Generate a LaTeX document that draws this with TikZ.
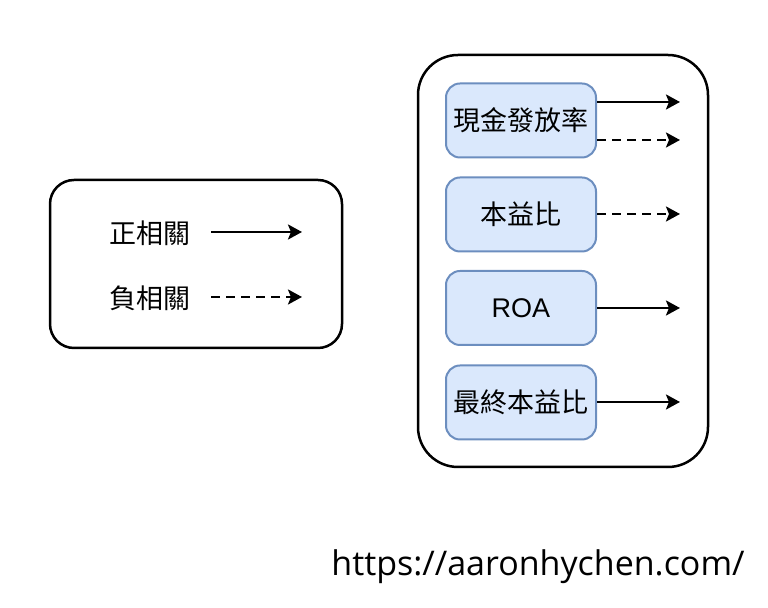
\documentclass[tikz,border=0pt]{standalone}
\usepackage{fontspec}
\setmainfont{Liberation Sans}
\newfontfamily\cjk{Noto Sans CJK TC}
\newfontfamily\urlfont{Open Sans}
\usetikzlibrary{arrows.meta}
\definecolor{itemfill}{HTML}{DAE8FC}
\definecolor{itemline}{HTML}{6C8EBF}

\begin{document}
\begin{tikzpicture}[x=0.5pt,y=-0.5pt,
	outerbox/.style={draw=black, line width=1.25pt, rounded corners=12pt},
	item/.style={draw=itemline, fill=itemfill, line width=1pt, rounded corners=7pt, minimum width=75pt, minimum height=37pt, inner sep=0pt, font=\fontsize{13.5}{15}\selectfont\cjk},
	legendtext/.style={font=\fontsize{13.5}{15}\selectfont\cjk, inner sep=0pt},
	posarrow/.style={line width=1.25pt, -{Stealth[length=7pt, width=7.5pt, inset=1.5pt]}},
	negarrow/.style={posarrow, dash pattern=on 4.5pt off 3pt}]
	\useasboundingbox (0,0) rectangle (768,608);
	% legend
	\node (legend) at (196, 264)	[outerbox, minimum width=146pt, minimum height=84pt]	{};
	\node (plus) at (150, 233)	[legendtext]	{正相關};
	\node (minus) at (150, 298)	[legendtext]	{負相關};
	\coordinate (p1) at (211, 232);
	\coordinate (p2) at (302, 232);
	\coordinate (m1) at (211, 297);
	\coordinate (m2) at (302, 297);
	\draw[posarrow] (p1) -- (p2);
	\draw[negarrow] (m1) -- (m2);
	% factors
	\node (group) at (563, 261)	[outerbox, rounded corners=20pt, minimum width=145pt, minimum height=206pt]	{};
	\node (cash) at (521, 120.5)	[item]	{現金發放率};
	\node (pe) at (521, 214.5)	[item]	{本益比};
	\node (roa) at (521, 308)	[item, font=\fontsize{13.5}{15}\selectfont]	{ROA};
	\node (fpe) at (521, 402.5)	[item]	{最終本益比};
	\coordinate (c1) at (680, 102);
	\coordinate (c2) at (680, 140);
	\coordinate (e2) at (680, 214);
	\coordinate (e3) at (680, 308);
	\coordinate (e4) at (680, 402);
	\draw[posarrow] (cash.east |- c1) -- (c1);
	\draw[negarrow] (cash.east |- c2) -- (c2);
	\draw[negarrow] (pe.east |- e2) -- (e2);
	\draw[posarrow] (roa.east |- e3) -- (e3);
	\draw[posarrow] (fpe.east |- e4) -- (e4);
	% site
	\node (site) at (538, 567)	[font=\fontsize{17}{19}\selectfont\urlfont, inner sep=0pt]	{https://aaronhychen.com/};
\end{tikzpicture}
\end{document}
